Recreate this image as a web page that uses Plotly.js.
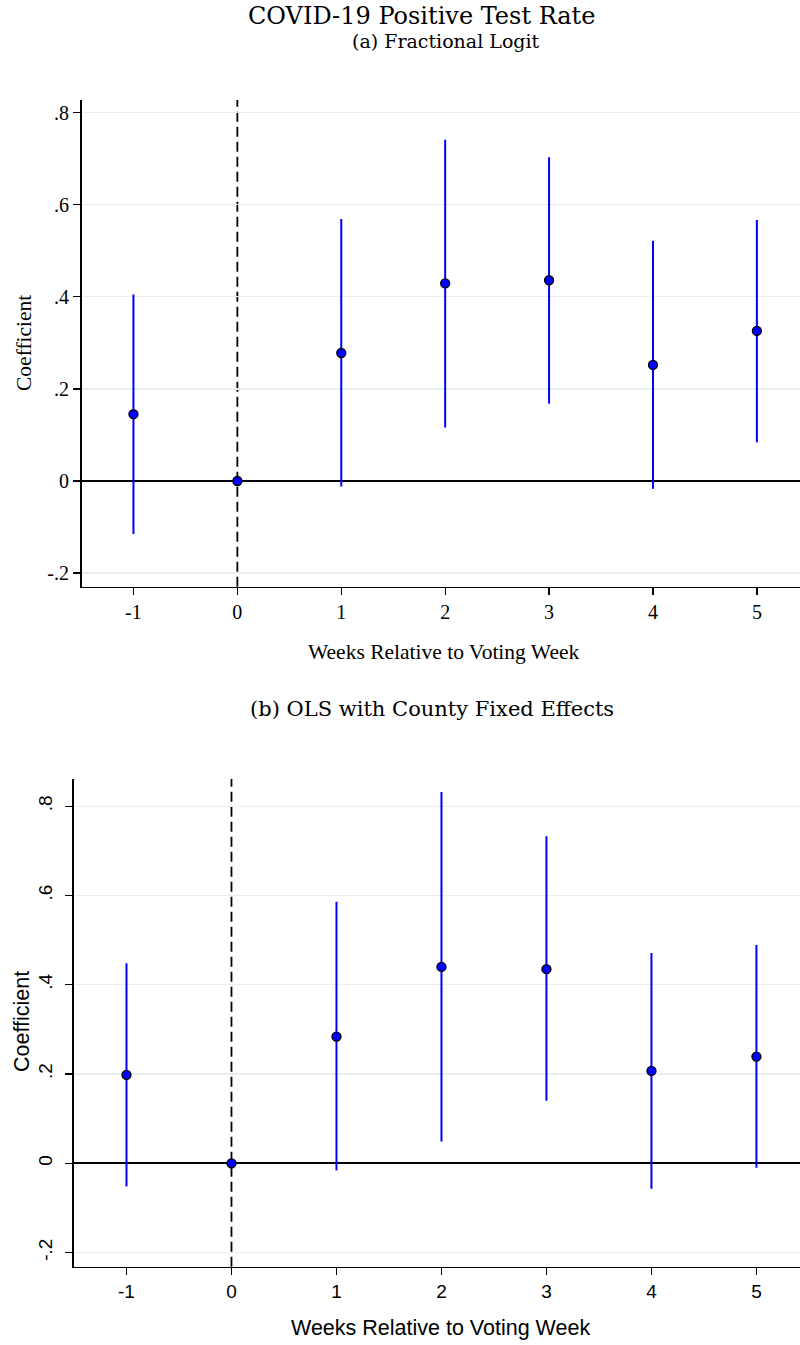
<!DOCTYPE html>
<html>
<head>
<meta charset="utf-8">
<script src="https://cdn.plot.ly/plotly-3.0.1.min.js"></script>
<style>html,body{margin:0;padding:0;background:#fff;}#chart{width:800px;height:1345px;}</style>
</head>
<body>
<div id="chart"></div>
<script>
// Data
var weeks = [-1, 0, 1, 2, 3, 4, 5];
var logitCoef = [0.145, 0, 0.278, 0.429, 0.436, 0.252, 0.326];
var logitLo   = [-0.115, 0, -0.012, 0.116, 0.168, -0.017, 0.084];
var logitHi   = [0.405, 0, 0.569, 0.741, 0.703, 0.522, 0.567];
var olsCoef = [0.198, 0, 0.284, 0.440, 0.435, 0.207, 0.239];
var olsLo   = [-0.052, 0, -0.016, 0.049, 0.140, -0.057, -0.010];
var olsHi   = [0.448, 0, 0.586, 0.832, 0.733, 0.471, 0.489];
var yTickVals = [-0.2, 0, 0.2, 0.4, 0.6, 0.8];
var yTickText = ['-.2', '0', '.2', '.4', '.6', '.8'];
var xTickVals = [-1, 0, 1, 2, 3, 4, 5];
var xTickText = ['-1', '0', '1', '2', '3', '4', '5'];

var SERIF = 'Liberation Serif, Times New Roman, serif';
var SANS = 'Liberation Sans, Arial, sans-serif';
var TITLE = 'DejaVu Serif, serif';
var BLUE = '#0000ff';

function diff(a, b) { return a.map(function (v, i) { return v - b[i]; }); }

function mkTrace(coef, lo, hi, xa, ya) {
  return {
    x: weeks, y: coef, xaxis: xa, yaxis: ya,
    type: 'scatter', mode: 'markers',
    marker: {size: 9, color: BLUE, line: {color: '#000', width: 1.3}},
    error_y: {type: 'data', symmetric: false, array: diff(hi, coef), arrayminus: diff(coef, lo),
              color: BLUE, thickness: 2, width: 0},
    hoverinfo: 'x+y', showlegend: false
  };
}

var H = 1345, W = 800;
function fy(px) { return 1 - px / H; }

function xAxis(font, size, domStart, anchor) {
  return {
    domain: [domStart / W, 1], range: [-1.5, 5.415], anchor: anchor,
    tickvals: xTickVals, ticktext: xTickText, ticks: 'outside', ticklen: 7, tickwidth: 1.3, tickcolor: '#000',
    showline: true, linecolor: '#000', linewidth: 1.6, showgrid: false, zeroline: false,
    tickfont: {family: font, size: size, color: '#000'}, fixedrange: true
  };
}
function yAxis(font, size, d0, d1, r, anchor, angle, standoff) {
  return {
    domain: [d0, d1], range: r, anchor: anchor,
    tickvals: yTickVals, ticktext: yTickText, ticks: 'outside', ticklen: 7, tickwidth: 1.3, tickcolor: '#000',
    showline: true, linecolor: '#000', linewidth: 1.6,
    showgrid: true, gridcolor: '#e8eff2', gridwidth: 1.3,
    zeroline: true, zerolinecolor: '#000', zerolinewidth: 1.7,
    tickangle: angle, ticklabelstandoff: standoff,
    tickfont: {family: font, size: size, color: '#000'}, fixedrange: true
  };
}

var data = [
  mkTrace(logitCoef, logitLo, logitHi, 'x', 'y'),
  mkTrace(olsCoef, olsLo, olsHi, 'x2', 'y2')
];

var layout = {
  width: W, height: H,
  margin: {l: 0, r: 0, t: 0, b: 0},
  paper_bgcolor: '#fff', plot_bgcolor: '#fff',
  showlegend: false,
  xaxis: xAxis(SERIF, 20, 81.5, 'y'),
  yaxis: yAxis(SERIF, 20, fy(586.7), fy(100), [-0.2296, 0.8275], 'x', 0, 0),
  xaxis2: xAxis(SANS, 19, 74, 'y2'),
  yaxis2: yAxis(SANS, 19, fy(1266.7), fy(779), [-0.2317, 0.861], 'x2', -90, 6),
  shapes: [
    {type: 'line', xref: 'x', yref: 'y domain', x0: 0, x1: 0, y0: 0, y1: 1,
     line: {color: '#000', width: 1.8, dash: '10px,5px'}, layer: 'below'},
    {type: 'line', xref: 'x2', yref: 'y2 domain', x0: 0, x1: 0, y0: 0, y1: 1,
     line: {color: '#000', width: 1.8, dash: '10px,5px'}, layer: 'below'}
  ],
  annotations: [
    {text: 'COVID-19 Positive Test Rate', xref: 'paper', yref: 'paper', x: 421.5 / W, y: fy(16), showarrow: false,
     xanchor: 'center', yanchor: 'middle', font: {family: TITLE, size: 24, color: '#000'}},
    {text: '(a) Fractional Logit', xref: 'paper', yref: 'paper', x: 445.5 / W, y: fy(41), showarrow: false,
     xanchor: 'center', yanchor: 'middle', font: {family: TITLE, size: 19, color: '#000'}},
    {text: '(b) OLS with County Fixed Effects', xref: 'paper', yref: 'paper', x: 432 / W, y: fy(709), showarrow: false,
     xanchor: 'center', yanchor: 'middle', font: {family: TITLE, size: 21, color: '#000'}},
    {text: 'Coefficient', xref: 'paper', yref: 'paper', x: 24 / W, y: fy(343), showarrow: false, textangle: -90,
     xanchor: 'center', yanchor: 'middle', font: {family: SERIF, size: 21.5, color: '#000'}},
    {text: 'Weeks Relative to Voting Week', xref: 'paper', yref: 'paper', x: 443 / W, y: fy(652), showarrow: false,
     xanchor: 'center', yanchor: 'middle', font: {family: SERIF, size: 21.5, color: '#000'}},
    {text: 'Coefficient', xref: 'paper', yref: 'paper', x: 22 / W, y: fy(1022), showarrow: false, textangle: -90,
     xanchor: 'center', yanchor: 'middle', font: {family: SANS, size: 21.5, color: '#000'}},
    {text: 'Weeks Relative to Voting Week', xref: 'paper', yref: 'paper', x: 440 / W, y: fy(1328), showarrow: false,
     xanchor: 'center', yanchor: 'middle', font: {family: SANS, size: 21.5, color: '#000'}}
  ]
};

Plotly.newPlot('chart', data, layout, {displayModeBar: false, staticPlot: true});
</script>
</body>
</html>
